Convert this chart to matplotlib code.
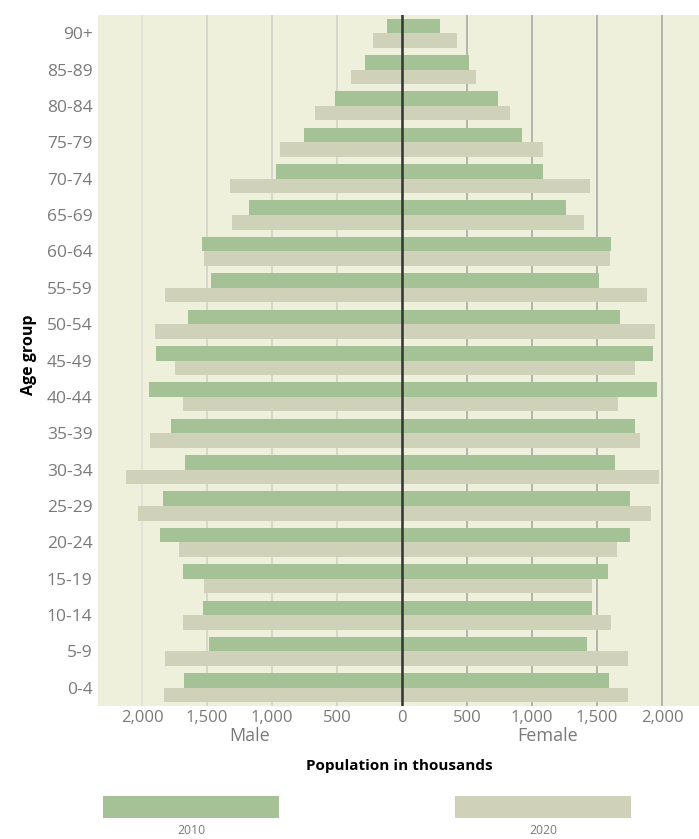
import numpy as np
import matplotlib.pyplot as plt
from matplotlib.patches import Rectangle

plt.rcParams['font.family'] = ['Open Sans', 'DejaVu Sans']

# data (thousands), oldest group first
age_groups = ['90+', '85-89', '80-84', '75-79', '70-74', '65-69', '60-64', '55-59',
              '50-54', '45-49', '40-44', '35-39', '30-34', '25-29', '20-24', '15-19',
              '10-14', '5-9', '0-4']
male_2010 = [112, 285, 515, 754, 969, 1174, 1538, 1466, 1643, 1892, 1946, 1777,
             1666, 1835, 1861, 1684, 1530, 1484, 1677]
male_2020 = [220, 395, 667, 938, 1323, 1305, 1523, 1823, 1900, 1746, 1684, 1938,
             2123, 2030, 1715, 1523, 1684, 1823, 1831]
female_2010 = [292, 518, 738, 923, 1087, 1264, 1610, 1515, 1676, 1930, 1961, 1792,
               1638, 1753, 1753, 1584, 1461, 1423, 1592]
female_2020 = [426, 569, 833, 1087, 1448, 1402, 1600, 1884, 1946, 1792, 1661, 1830,
               1976, 1915, 1653, 1461, 1607, 1738, 1738]
years = ['2010', '2020']
ticks = [-2000, -1500, -1000, -500, 0, 500, 1000, 1500, 2000]

c2010 = '#a5c297'
c2020 = '#cfd2b8'
panel = '#eef0dc'
gray = '#7a7a7a'

fig = plt.figure(figsize=(6.99, 8.39), dpi=100)
ax = fig.add_axes([0.1402, 0.1585, 0.8598, 0.8236])
ax.set_facecolor(panel)

y = np.arange(len(age_groups))
h = 0.4

# gridlines: lighter on the male side
for t in ticks:
    if t < 0:
        col = '#e0e0d6' if t == -2000 else '#d2d2c8'
        ax.axvline(t, color=col, lw=1.2, zorder=0)
    elif t > 0:
        ax.axvline(t, color='#b4b4ae', lw=1.4, zorder=0)

ax.barh(y - h / 2, -np.array(male_2010), height=h, color=c2010, zorder=2)
ax.barh(y + h / 2, -np.array(male_2020), height=h, color=c2020, zorder=2)
ax.barh(y - h / 2, female_2010, height=h, color=c2010, zorder=2)
ax.barh(y + h / 2, female_2020, height=h, color=c2020, zorder=2)
ax.axvline(0, color='#333333', lw=1.8, zorder=3)

ax.set_xlim(-2338, 2285)
ax.set_ylim(len(age_groups) - 0.5, -0.5)
ax.set_yticks(y)
ax.set_yticklabels(age_groups)
ax.set_xticks(ticks)
ax.set_xticklabels([f'{abs(t):,}' for t in ticks])
ax.tick_params(axis='y', length=0, labelsize=12.5, colors=gray, pad=4)
ax.tick_params(axis='x', length=0, labelsize=12, colors=gray, pad=3)
for s in ax.spines.values():
    s.set_visible(False)

ax.set_ylabel('Age group', fontsize=11.5, fontweight='bold', color='black')
ax.yaxis.set_label_coords(-0.102, 0.508)

# side labels under the axis
ax.text(0.252, -0.043, 'Male', transform=ax.transAxes, ha='center', va='center',
        fontsize=13, color=gray)
ax.text(0.748, -0.043, 'Female', transform=ax.transAxes, ha='center', va='center',
        fontsize=13, color=gray)

fig.text(0.571, 0.087, 'Population in thousands', ha='center', va='center',
         fontsize=11, fontweight='bold', color='black')

# legend
for x0, col, lab in [(0.1474, c2010, years[0]), (0.651, c2020, years[1])]:
    fig.patches.append(Rectangle((x0, 0.025), 0.2517, 0.0262, transform=fig.transFigure,
                                 facecolor=col, edgecolor='none'))
    fig.text(x0 + 0.2517 / 2, 0.0107, lab, ha='center', va='center', fontsize=8.8, color=gray)

fig.savefig('out.png', dpi=100)
